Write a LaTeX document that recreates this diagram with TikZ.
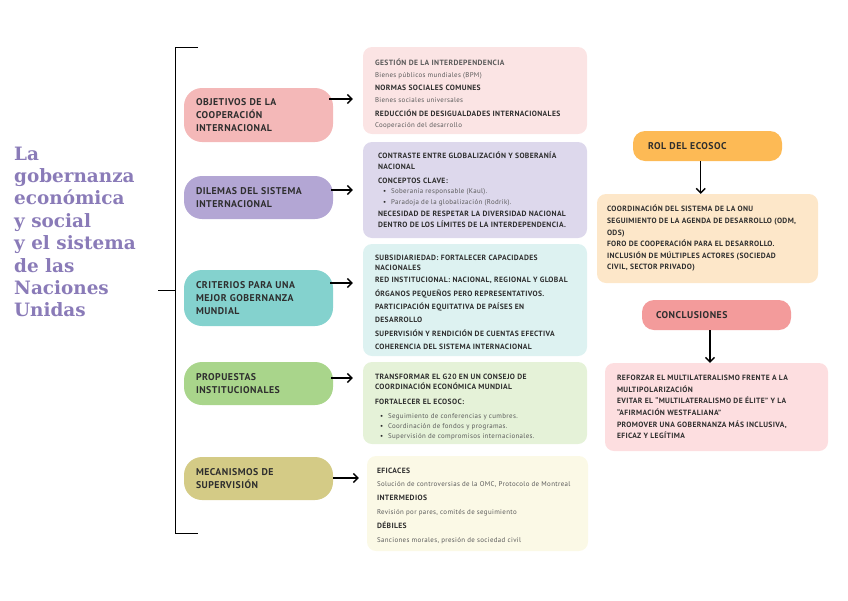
\documentclass[tikz,border=0pt]{standalone}
\usepackage{fontspec}
\setmainfont[LetterSpace=5]{PT Sans}
\newfontfamily\titlefont{DejaVu Serif}
\usetikzlibrary{positioning,arrows.meta}
\definecolor{tituloC}{HTML}{8A7BB8}
\definecolor{objC}{HTML}{F4B8B8}
\definecolor{dilC}{HTML}{B3A6D4}
\definecolor{criC}{HTML}{84D2CE}
\definecolor{proC}{HTML}{A9D58B}
\definecolor{mecC}{HTML}{D4CB86}
\definecolor{gestC}{HTML}{FBE4E4}
\definecolor{contC}{HTML}{DDD8EC}
\definecolor{subsC}{HTML}{DDF2F1}
\definecolor{transC}{HTML}{E5F2D8}
\definecolor{efiC}{HTML}{FBF9E6}
\definecolor{rolC}{HTML}{FDBA55}
\definecolor{rolcajaC}{HTML}{FDE7C9}
\definecolor{conC}{HTML}{F39B9B}
\definecolor{concajaC}{HTML}{FDDEE0}
\definecolor{oscuro}{HTML}{2E2E2E}
\definecolor{gris}{HTML}{5A5A5A}
\tikzset{
  pill/.style={rounded corners=18pt, minimum width=149pt, text width=125pt, align=left, inner sep=0pt, text=oscuro, font=\bfseries\fontsize{9.8}{13}\selectfont},
  caja/.style={rounded corners=9pt, inner sep=0pt},
  texto/.style={anchor=west, inner sep=0pt, align=left, text=oscuro},
  flecha/.style={-{Straight Barb[length=4.5pt,width=9pt]}, line width=1.4pt}
}
\newcommand{\sub}[1]{{\mdseries\color{gris}\fontsize{6.9}{12.5}\selectfont #1}}
\newcommand{\vin}{\hspace*{5pt}{\color{oscuro}\textbullet}\hspace{5pt}}
\begin{document}
\begin{tikzpicture}[x=1pt,y=-1pt]
\useasboundingbox (0,0) rectangle (848,600);
% titulo
\node[anchor=north west, inner sep=0pt, align=left, text=tituloC, font=\titlefont\bfseries\fontsize{18.4}{22.4}\selectfont] (titulo) at (14,146.5) {La\\ gobernanza\\ económica\\ y social\\ y el sistema\\ de las\\ Naciones\\ Unidas};
% llave
\coordinate (llave) at (158,290);
\draw[line width=1pt] (198,47) -- (175,47) -- (175,533) -- (198,533);
\draw[line width=1pt] (llave) -- (175,290);
% temas
\node[pill, fill=objC, minimum height=54pt] (obj) at (258.5,115) {OBJETIVOS DE LA\\ COOPERACIÓN\\ INTERNACIONAL};
\node[pill, fill=dilC, minimum height=43pt] (dil) at (258.5,197.5) {DILEMAS DEL SISTEMA\\ INTERNACIONAL};
\node[pill, fill=criC, minimum height=56pt] (cri) at (258.5,298) {CRITERIOS PARA UNA\\ MEJOR GOBERNANZA\\ MUNDIAL};
\node[pill, fill=proC, minimum height=43pt] (pro) at (258.5,383.5) {PROPUESTAS\\ INSTITUCIONALES};
\node[pill, fill=mecC, minimum height=43pt] (mec) at (258.5,478.5) {MECANISMOS DE\\ SUPERVISIÓN};
% cajas
\node[caja, fill=gestC, minimum width=224pt, minimum height=87pt] (gest) at (475,90.5) {};
\node[texto, font=\bfseries\fontsize{7.6}{12.8}\selectfont] (gestT) at ([xshift=12pt,yshift=-3pt]gest.west) {{\color{gris}GESTIÓN DE LA INTERDEPENDENCIA}\\ \sub{Bienes públicos mundiales (BPM)}\\ NORMAS SOCIALES COMUNES\\[-1pt] \sub{Bienes sociales universales}\\[1pt] REDUCCIÓN DE DESIGUALDADES INTERNACIONALES\\[-2pt] \sub{Cooperación del desarrollo}};
\node[caja, fill=contC, minimum width=224pt, minimum height=96pt] (cont) at (475,190) {};
\node[texto, font=\bfseries\fontsize{7.6}{11}\selectfont] (contT) at ([xshift=15pt]cont.west) {CONTRASTE ENTRE GLOBALIZACIÓN Y SOBERANÍA\\ NACIONAL\\[3pt] CONCEPTOS CLAVE:\\[-1pt] \sub{\vin Soberanía responsable (Kaul).}\\ \sub{\vin Paradoja de la globalización (Rodrik).}\\[1pt] NECESIDAD DE RESPETAR LA DIVERSIDAD NACIONAL\\ DENTRO DE LOS LÍMITES DE LA INTERDEPENDENCIA.};
\node[caja, fill=subsC, minimum width=224pt, minimum height=112pt] (subs) at (475,300) {};
\node[texto, font=\bfseries\fontsize{7.6}{13.4}\selectfont] (subsT) at ([xshift=12pt,yshift=-2.5pt]subs.west) {SUBSIDIARIEDAD: FORTALECER CAPACIDADES\\[-3.4pt] NACIONALES\\[-1.4pt] RED INSTITUCIONAL: NACIONAL, REGIONAL Y GLOBAL\\ ÓRGANOS PEQUEÑOS PERO REPRESENTATIVOS.\\ PARTICIPACIÓN EQUITATIVA DE PAÍSES EN\\ DESARROLLO\\ SUPERVISIÓN Y RENDICIÓN DE CUENTAS EFECTIVA\\ COHERENCIA DEL SISTEMA INTERNACIONAL};
\node[caja, fill=transC, minimum width=224pt, minimum height=82pt] (trans) at (475,403) {};
\node[texto, font=\bfseries\fontsize{7.6}{10}\selectfont] (transT) at ([xshift=12pt,yshift=-4pt]trans.west) {TRANSFORMAR EL G20 EN UN CONSEJO DE\\ COORDINACIÓN ECONÓMICA MUNDIAL\\[5pt] FORTALECER EL ECOSOC:\\[4pt] \sub{\vin Seguimiento de conferencias y cumbres.}\\ \sub{\vin Coordinación de fondos y programas.}\\ \sub{\vin Supervisión de compromisos internacionales.}};
\node[caja, fill=efiC, minimum width=221pt, minimum height=95pt] (efi) at (477.5,503.5) {};
\node[texto, font=\bfseries\fontsize{7.6}{13.8}\selectfont] (efiT) at ([xshift=10pt,yshift=-2pt]efi.west) {EFICACES\\ \sub{Solución de controversias de la OMC, Protocolo de Montreal}\\ INTERMEDIOS\\ \sub{Revisión por pares, comités de seguimiento}\\ DÉBILES\\ \sub{Sanciones morales, presión de sociedad civil}};
% flechas
\coordinate (f1) at (329,99);
\coordinate (f2) at (331,190);
\coordinate (f3) at (330,283);
\coordinate (f4) at (331,378);
\coordinate (f5) at (333,478);
\draw[flecha, shorten >=10pt] (f1) -- (f1 -| gest.west);
\draw[flecha, shorten >=10pt] (f2) -- (f2 -| cont.west);
\draw[flecha, shorten >=10pt] (f3) -- (f3 -| subs.west);
\draw[flecha, shorten >=10pt] (f4) -- (f4 -| trans.west);
\draw[flecha, shorten >=8pt] (f5) -- (f5 -| efi.west);
% ecosoc
\node[pill, fill=rolC, minimum height=30pt, text width=119pt, rounded corners=12pt] (rol) at (707.5,146) {ROL DEL ECOSOC};
\node[caja, fill=rolcajaC, minimum width=221pt, minimum height=89pt] (rolcaja) at (707.5,238.5) {};
\node[texto, font=\bfseries\fontsize{7.6}{11.6}\selectfont] (rolT) at ([xshift=10pt]rolcaja.west) {COORDINACIÓN DEL SISTEMA DE LA ONU\\ SEGUIMIENTO DE LA AGENDA DE DESARROLLO (ODM,\\ ODS)\\ FORO DE COOPERACIÓN PARA EL DESARROLLO.\\ INCLUSIÓN DE MÚLTIPLES ACTORES (SOCIEDAD\\ CIVIL, SECTOR PRIVADO)};
\draw[flecha] ([xshift=-6.8pt]rol.south) -- ([xshift=-6.8pt]rol.south |- rolcaja.north);
% conclusiones
\node[pill, fill=conC, minimum height=30pt, text width=121pt, rounded corners=12pt] (con) at (716.5,315) {CONCLUSIONES};
\node[caja, fill=concajaC, minimum width=223pt, minimum height=88pt] (concaja) at (716.5,407) {};
\node[texto, font=\bfseries\fontsize{7.6}{11.6}\selectfont] (conT) at ([xshift=12pt]concaja.west) {REFORZAR EL MULTILATERALISMO FRENTE A LA\\ MULTIPOLARIZACIÓN\\ EVITAR EL “MULTILATERALISMO DE ÉLITE” Y LA\\ “AFIRMACIÓN WESTFALIANA”\\ PROMOVER UNA GOBERNANZA MÁS INCLUSIVA,\\ EFICAZ Y LEGÍTIMA};
\draw[flecha] ([xshift=-6.5pt]con.south) -- ([xshift=-6.5pt]con.south |- concaja.north);
\end{tikzpicture}
\end{document}
